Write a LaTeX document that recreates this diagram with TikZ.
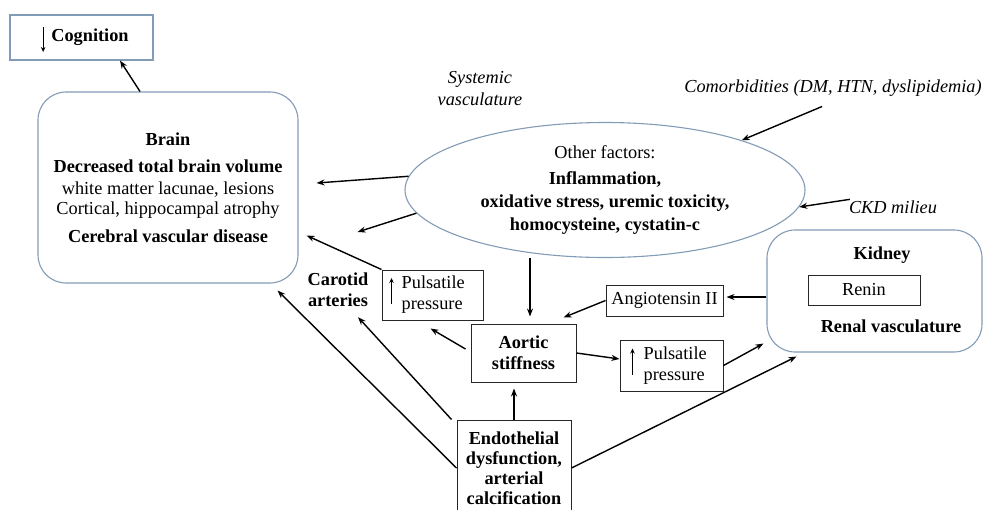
\documentclass[tikz,border=0pt]{standalone}
\usepackage{fontspec}
\setmainfont{Liberation Serif}
\usetikzlibrary{arrows.meta,shapes.geometric,calc}
\definecolor{bluegray}{RGB}{130,155,182}
\begin{document}
\begin{tikzpicture}[x=1pt,y=-1pt,
  every node/.style={font=\fontsize{18.3}{21}\selectfont, inner sep=0pt},
  bf/.style={font=\bfseries\fontsize{18.3}{21}\selectfont},
  it/.style={font=\itshape\fontsize{18.3}{22}\selectfont},
  rbox/.style={draw=bluegray, line width=1.1pt, rounded corners=28pt},
  sbox/.style={draw=black!85, line width=1pt},
  arr/.style={line width=1.4pt, -{Stealth[length=8pt,width=6pt]}},
  uparr/.style={line width=1.1pt, -{Stealth[length=5pt,width=4.5pt]}},
]
\useasboundingbox (0,0) rectangle (984,509);
\clip (0,0) rectangle (984,509);

% Cognition
\node[draw=bluegray, line width=1.1pt, minimum width=143, minimum height=45] (cog) at (81.5,37.5) {};
\node[bf] (cogt) at (90,37) {Cognition};
\draw[uparr] ($(cogt.west)+(-8,-10)$) -- ($(cogt.west)+(-8,15)$);

% Brain
\node[rbox, minimum width=260, minimum height=191, align=center] (brain) at (168,187.5)
 {\textbf{Brain}\\[6pt] \textbf{Decreased total brain volume}\\[1pt] white matter lacunae, lesions\\[-1pt] Cortical, hippocampal atrophy\\[7pt] \textbf{Cerebral vascular disease}};

% Ellipse
\node[ellipse, draw=bluegray, line width=1.1pt, minimum width=400, minimum height=135, align=center] (ell) at (605,190)
 {Other factors:\\[5pt] \textbf{Inflammation,}\\[2pt] \textbf{oxidative stress, uremic toxicity,}\\[2pt] \textbf{homocysteine, cystatin-c}};

% italic labels
\node[it, align=center] (sys) at (480,89) {Systemic\\vasculature};
\node[it] (com) at (833,88) {Comorbidities (DM, HTN, dyslipidemia)};
\node[it] (ckd) at (893,207) {CKD milieu};

% Kidney
\node[rbox, minimum width=215, minimum height=122] (kid) at (874.5,291) {};
\node[bf] (kidt) at (882,255) {Kidney};
\node[sbox, minimum width=112, minimum height=30] (renin) at (864,290) {Renin};
\node[bf] (renal) at (891,326) {Renal vasculature};

% Angiotensin
\node[sbox, minimum width=117, minimum height=31] (ang) at (664.5,300.5) {Angiotensin II};

% Aortic stiffness
\node[sbox, bf, minimum width=105, minimum height=58, align=center] (aort) at (523.5,353) {Aortic\\stiffness};

% Left pulsatile
\node[sbox, minimum width=101, minimum height=50] (pl) at (432.5,295) {};
\node[align=left, anchor=west] (plt) at ($(pl.west)+(20,0)$) {Pulsatile\\pressure};
\draw[uparr] ($(pl.west)+(10,9)$) -- ($(pl.west)+(10,-17)$);

% Right pulsatile
\node[sbox, minimum width=103, minimum height=51] (pr) at (671.5,365.5) {};
\node[align=left, anchor=west] (prt) at ($(pr.west)+(24,0)$) {Pulsatile\\pressure};
\draw[uparr] ($(pr.west)+(13,9)$) -- ($(pr.west)+(13,-17)$);

% Carotid
\node[bf, align=center] (car) at (338,290) {Carotid\\arteries};

% Endothelial
\node[sbox, bf, minimum width=114, minimum height=96, align=center, font=\bfseries\fontsize{18.3}{20}\selectfont] (endo) at (514,468)
 {Endothelial\\dysfunction,\\arterial\\calcification};

% Arrows
\draw[arr] (brain.north -| 140,0) -- (cog.south -| 120,0);
\draw[arr] (ell.176.6) -- ($(brain.east)+(18,-4.5)$);
\draw[arr] (ell.187.5) -- ($(brain.east)+(59,44.5)$);
\draw[arr] ($(com.south)+(-11,10)$) -- (ell.20);
\draw[arr] ($(ckd.north west)+(1,-1)$) -- (ell.-5);
\draw[arr, shorten >=7pt] (ell.south -| 530,0) -- (aort.north -| 530,0);
\draw[arr, shorten >=3pt] (kid.west |- 0,297) -- (ang.east |- 0,297);
\draw[arr] (ang.west) -- ($(aort.north east)+(-13,-6)$);
\draw[arr] ($(aort.west)+(-5,-4)$) -- ($(pl.south)+(-2,8)$);
\draw[arr] (pl.north west) -- ($(brain.east)+(8,48)$);
\draw[arr] (aort.east) -- (pr.west |- 0,359);
\draw[arr] (pr.east) -- ($(kid.south west)+(-3,-9)$);
\draw[arr, shorten >=6pt] (endo.north) -- (endo.north |- aort.south);
\draw[arr] ($(endo.north west)+(-5,0)$) -- ($(car.south)+(20,10)$);
\draw[arr] (endo.west) -- ($(brain.south east)+(-21,7)$);
\draw[arr] (endo.east) -- ($(kid.south west)+(30,4)$);
\end{tikzpicture}
\end{document}
